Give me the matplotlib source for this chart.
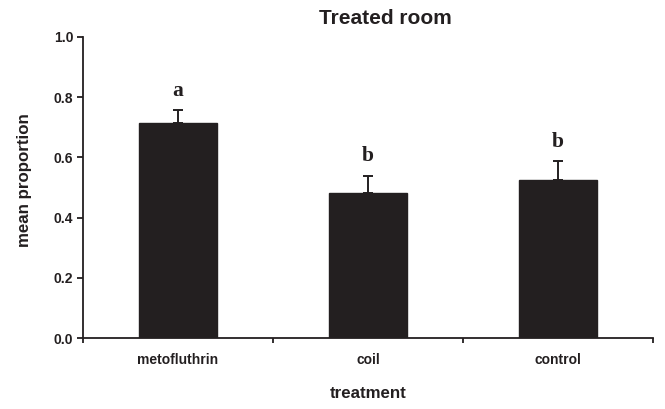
import matplotlib
matplotlib.use("Agg")
import matplotlib.pyplot as plt
import numpy as np

categories = ["metofluthrin", "coil", "control"]
means = [0.713, 0.483, 0.525]
sems = [0.044, 0.056, 0.063]
letters = ["a", "b", "b"]

title = "Treated room"
xlabel = "treatment"
ylabel = "mean proportion"
yticks = [0.0, 0.2, 0.4, 0.6, 0.8, 1.0]

dark = "#231f20"
sans = ["Liberation Sans", "DejaVu Sans"]

fig = plt.figure(figsize=(6.65, 4.09), dpi=100)
ax = fig.add_axes([83/665, 1 - 338/409, (653-83)/665, (338-37)/409])

x = np.arange(len(categories))
ax.bar(x, means, width=0.41, color=dark, edgecolor=dark, zorder=2)
ax.errorbar(x, means, yerr=[np.zeros(len(sems)), sems], fmt="none",
            ecolor=dark, elinewidth=1.4, capsize=3.5, capthick=1.4, zorder=3)

for xi, m, s, lab in zip(x, means, sems, letters):
    ax.annotate(lab, (xi, m + s), xytext=(0, 14), textcoords="offset points",
                ha="center", va="center", fontsize=15.5, fontweight="bold",
                family=["Liberation Serif", "DejaVu Serif"], color=dark)

ax.set_xlim(-0.5, len(categories) - 0.5)
ax.set_ylim(0, 1.0)

for side in ["top", "right"]:
    ax.spines[side].set_visible(False)
for side in ["left", "bottom"]:
    ax.spines[side].set_linewidth(1.3)
    ax.spines[side].set_color(dark)

ax.set_yticks(yticks)
ax.set_yticklabels([f"{v:.1f}" for v in yticks], fontsize=10,
                   fontweight="bold", family=sans, color=dark)
ax.tick_params(axis="y", direction="out", length=4, width=1.3, color=dark, pad=3)

ax.set_xticks(x)
ax.set_xticklabels(categories, fontsize=10, fontweight="bold", family=sans, color=dark)
ax.tick_params(axis="x", which="major", length=0, pad=11)
ax.set_xticks(np.arange(-0.5, len(categories)), minor=True)
ax.tick_params(axis="x", which="minor", direction="out", length=3.5, width=1.3, color=dark)

fig.text(385/665, 1 - 18/409, title, ha="center", va="center", fontsize=15,
         fontweight="bold", family=sans, color=dark)
fig.text(368/665, 1 - 393/409, xlabel, ha="center", va="center", fontsize=12.2,
         fontweight="bold", family=sans, color=dark)
fig.text(25/665, 1 - 180/409, ylabel, ha="center", va="center", rotation=90,
         fontsize=12.2, fontweight="bold", family=sans, color=dark)

fig.savefig("out.png", dpi=100)
